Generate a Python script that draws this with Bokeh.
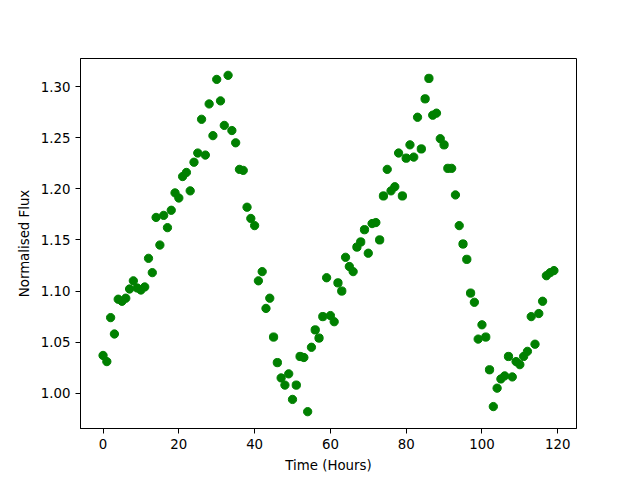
from bokeh.plotting import figure
from bokeh.models import Range1d, FixedTicker, NumeralTickFormatter
from bokeh.embed import file_html
from bokeh.resources import INLINE

hours = list(range(120))
flux = [
    1.037, 1.031, 1.074, 1.058, 1.092, 1.090, 1.093, 1.102, 1.110, 1.103,
    1.101, 1.104, 1.132, 1.118, 1.172, 1.145, 1.174, 1.162, 1.179, 1.196,
    1.191, 1.212, 1.216, 1.198, 1.226, 1.235, 1.268, 1.233, 1.283, 1.252,
    1.307, 1.286, 1.262, 1.311, 1.257, 1.245, 1.219, 1.218, 1.182, 1.171,
    1.164, 1.110, 1.119, 1.083, 1.093, 1.055, 1.030, 1.015, 1.008, 1.019,
    0.994, 1.008, 1.036, 1.035, 0.982, 1.045, 1.062, 1.054, 1.075, 1.113,
    1.076, 1.070, 1.108, 1.100, 1.133, 1.124, 1.119, 1.143, 1.148, 1.160,
    1.137, 1.166, 1.167, 1.150, 1.193, 1.219, 1.198, 1.202, 1.235, 1.193,
    1.230, 1.243, 1.231, 1.270, 1.239, 1.288, 1.308, 1.272, 1.274, 1.249,
    1.243, 1.220, 1.220, 1.194, 1.164, 1.146, 1.131, 1.098, 1.089, 1.053,
    1.067, 1.055, 1.023, 0.987, 1.005, 1.014, 1.017, 1.036, 1.016, 1.031,
    1.028, 1.036, 1.041, 1.075, 1.048, 1.078, 1.090, 1.115, 1.118, 1.120,
]
x_ticks = [0, 20, 40, 60, 80, 100, 120]
y_ticks = [1.00, 1.05, 1.10, 1.15, 1.20, 1.25, 1.30]

xmin, xmax = min(hours), max(hours)
ymin, ymax = min(flux), max(flux)
xm = 0.05 * (xmax - xmin)
ym = 0.05 * (ymax - ymin)

p = figure(width=632, height=472, output_backend="svg", toolbar_location=None,
           x_range=Range1d(xmin - xm, xmax + xm), y_range=Range1d(ymin - ym, ymax + ym),
           frame_width=496, frame_height=370,
           min_border_left=80, min_border_top=58, min_border_right=56, min_border_bottom=20)

p.scatter(hours, flux, size=8.3, color="#008000", line_color="#008000")

p.xgrid.visible = False
p.ygrid.visible = False
p.outline_line_color = "black"
p.outline_line_width = 1
p.background_fill_color = "white"
p.border_fill_color = "white"

p.xaxis.ticker = FixedTicker(ticks=x_ticks)
p.yaxis.ticker = FixedTicker(ticks=y_ticks)
p.yaxis.formatter = NumeralTickFormatter(format="0.00")
p.xaxis.axis_label = "Time (Hours)"
p.yaxis.axis_label = "Normalised Flux"

for ax in (p.xaxis[0], p.yaxis[0]):
    ax.axis_line_color = "black"
    ax.major_tick_line_color = "black"
    ax.major_tick_out = 5
    ax.major_tick_in = 0
    ax.minor_tick_line_color = None
    ax.major_label_text_font = "DejaVu Sans"
    ax.major_label_text_font_size = "10pt"
    ax.major_label_text_color = "black"
    ax.axis_label_text_font = "DejaVu Sans"
    ax.axis_label_text_font_size = "10pt"
    ax.axis_label_text_font_style = "normal"
    ax.axis_label_text_color = "black"
    ax.major_label_standoff = 5
    ax.axis_label_standoff = 6

open("out.html", "w").write(file_html(p, INLINE))
